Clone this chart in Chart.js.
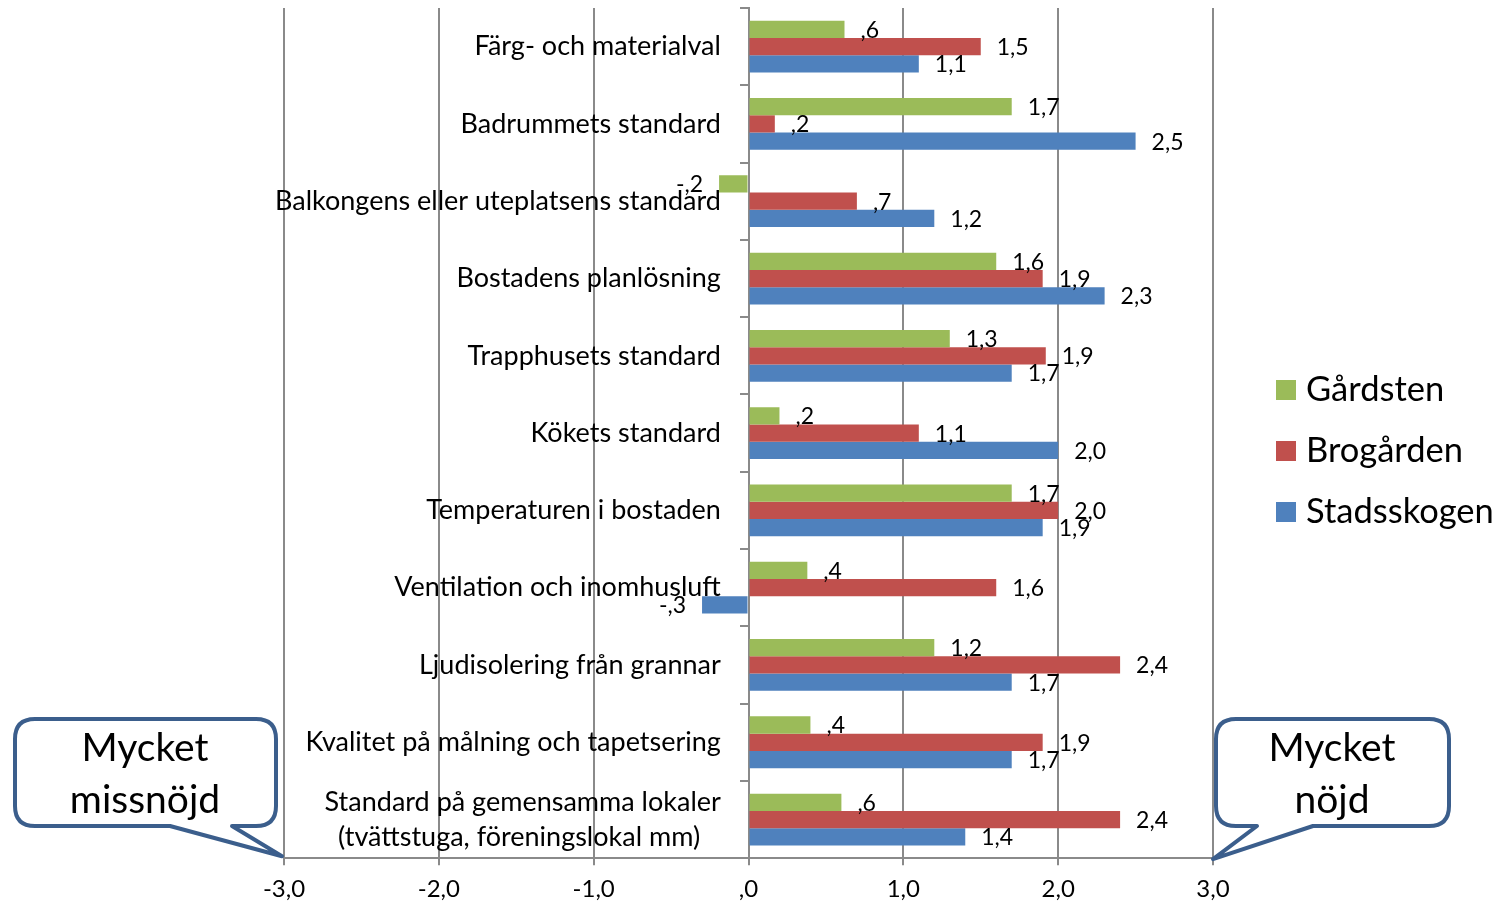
<!DOCTYPE html>
<html>
<head>
<meta charset="utf-8">
<script src="https://cdn.jsdelivr.net/npm/chart.js@4"></script>
<style>
  html, body { margin: 0; padding: 0; background: #fff; }
  #wrap { width: 1497px; height: 905px; position: relative; }
</style>
</head>
<body>
<div id="wrap"><canvas id="chart"></canvas></div>
<script>
// Categories (top to bottom)
const categories = [
  'Färg- och materialval',
  'Badrummets standard',
  'Balkongens eller uteplatsens standard',
  'Bostadens planlösning',
  'Trapphusets standard',
  'Kökets standard',
  'Temperaturen i bostaden',
  'Ventilation och inomhusluft',
  'Ljudisolering från grannar',
  'Kvalitet på målning och tapetsering',
  ['Standard på gemensamma lokaler', '(tvättstuga, föreningslokal mm)']
];

const seriesNames = ['Gårdsten', 'Brogården', 'Stadsskogen'];
const gardsten    = [0.62, 1.70, -0.19, 1.60, 1.30, 0.20, 1.70, 0.38, 1.20, 0.40, 0.60];
const brogarden   = [1.50, 0.17, 0.70, 1.90, 1.92, 1.10, 2.00, 1.60, 2.40, 1.90, 2.40];
const stadsskogen = [1.10, 2.50, 1.20, 2.30, 1.70, 2.00, 1.90, -0.30, 1.70, 1.70, 1.40];

const xTicks = [-3, -2, -1, 0, 1, 2, 3];
const calloutTexts = [['Mycket', 'missnöjd'], ['Mycket', 'nöjd']];

const colors = ['#9BBB59', '#C0504D', '#4F81BD'];
const FONT = 'Lato, "Open Sans", sans-serif';

// Swedish style number: 0.6 -> ",6", -0.2 -> "-,2", 1.5 -> "1,5"
function fmt(v) {
  const r = Math.round(v * 10) / 10;
  let s = Math.abs(r).toFixed(1).replace('.', ',');
  if (s.startsWith('0')) s = s.slice(1);
  return (r < 0 ? '-' : '') + s;
}

const valueLabels = {
  id: 'valueLabels',
  afterDatasetsDraw(chart) {
    const ctx = chart.ctx;
    ctx.save();
    ctx.font = '23px ' + FONT;
    ctx.fillStyle = '#000';
    ctx.textBaseline = 'middle';
    chart.data.datasets.forEach((ds, i) => {
      chart.getDatasetMeta(i).data.forEach((bar, j) => {
        const v = ds.data[j];
        const neg = v < 0;
        ctx.textAlign = neg ? 'right' : 'left';
        ctx.fillText(fmt(v), bar.x + (neg ? -16 : 16), bar.y + 1);
      });
    });
    ctx.restore();
  }
};

// legend on the right, drawn from dataset colours/labels
const sideLegend = {
  id: 'sideLegend',
  afterDraw(chart) {
    const ctx = chart.ctx;
    ctx.save();
    ctx.font = '34.5px ' + FONT;
    ctx.textBaseline = 'middle';
    ctx.textAlign = 'left';
    chart.data.datasets.forEach((ds, i) => {
      const y = 390 + i * 61;
      ctx.fillStyle = ds.backgroundColor;
      ctx.fillRect(1276, y - 10, 20, 20);
      ctx.fillStyle = '#000';
      ctx.fillText(ds.label, 1306, y);
    });
    ctx.restore();
  }
};

// speech bubbles pointing at the ends of the x axis
function bubble(ctx, l, t, r, b, rad, p1, tipX, tipY, p2) {
  ctx.beginPath();
  ctx.moveTo(l + rad, t);
  ctx.lineTo(r - rad, t);
  ctx.quadraticCurveTo(r, t, r, t + rad);
  ctx.lineTo(r, b - rad);
  ctx.quadraticCurveTo(r, b, r - rad, b);
  ctx.lineTo(p1, b);
  ctx.lineTo(tipX, tipY);
  ctx.lineTo(p2, b);
  ctx.lineTo(l + rad, b);
  ctx.quadraticCurveTo(l, b, l, b - rad);
  ctx.lineTo(l, t + rad);
  ctx.quadraticCurveTo(l, t, l + rad, t);
  ctx.closePath();
  ctx.fillStyle = '#fff';
  ctx.fill();
  ctx.lineWidth = 4;
  ctx.strokeStyle = '#3B5E8C';
  ctx.lineJoin = 'round';
  ctx.stroke();
}

const callouts = {
  id: 'callouts',
  afterDraw(chart) {
    const ctx = chart.ctx;
    const xs = chart.scales.x;
    const bottom = chart.chartArea.bottom;
    const leftTip = xs.getPixelForValue(xTicks[0]);
    const rightTip = xs.getPixelForValue(xTicks[xTicks.length - 1]);
    ctx.save();
    bubble(ctx, 15, 719, 276, 826, 20, 232, leftTip - 2, bottom - 2, 170);
    bubble(ctx, 1216, 719, 1449, 826, 20, 1313, rightTip, bottom + 1, 1257);
    ctx.fillStyle = '#000';
    ctx.font = '39px ' + FONT;
    ctx.textAlign = 'center';
    ctx.textBaseline = 'middle';
    ctx.fillText(calloutTexts[0][0], 145, 748);
    ctx.fillText(calloutTexts[0][1], 145, 800);
    ctx.fillText(calloutTexts[1][0], 1332, 748);
    ctx.fillText(calloutTexts[1][1], 1332, 800);
    ctx.restore();
  }
};

const pad = '    ';

new Chart(document.getElementById('chart'), {
  type: 'bar',
  data: {
    labels: categories,
    datasets: [
      { label: seriesNames[0], data: gardsten, backgroundColor: colors[0] },
      { label: seriesNames[1], data: brogarden, backgroundColor: colors[1] },
      { label: seriesNames[2], data: stadsskogen, backgroundColor: colors[2] }
    ]
  },
  options: {
    indexAxis: 'y',
    responsive: true,
    maintainAspectRatio: false,
    animation: false,
    layout: { padding: { left: 284, right: 284, top: 8, bottom: 3 } },
    datasets: {
      bar: { barPercentage: 1.0, categoryPercentage: 0.67 }
    },
    plugins: {
      legend: { display: false },
      tooltip: { enabled: false }
    },
    scales: {
      x: {
        min: -3,
        max: 3,
        afterBuildTicks: s => { s.ticks = xTicks.map(v => ({ value: v })); },
        afterFit: s => { s.height -= 12; },
        grid: { color: '#8A8A8A', lineWidth: 2, tickLength: 7, drawTicks: true },
        border: { color: '#8A8A8A', width: 2 },
        ticks: {
          color: '#000',
          font: { family: FONT, size: 24 },
          padding: 10,
          callback: v => fmt(v)
        }
      },
      y: {
        position: { x: 0 },
        grid: { drawOnChartArea: false, drawTicks: true, tickLength: 8, offset: true, color: '#8A8A8A', lineWidth: 2 },
        border: { color: '#8A8A8A', width: 2 },
        afterFit: s => { s.paddingTop = 0; s.paddingBottom = 0; },
        ticks: {
          color: '#000',
          font: { family: FONT, size: 27, lineHeight: 1.3 },
          callback: function (v, i) {
            const l = categories[i];
            if (Array.isArray(l)) return [l[0] + pad, l[1] + pad + '   '];
            return l + pad;
          }
        }
      }
    }
  },
  plugins: [valueLabels, sideLegend, callouts]
});
</script>
</body>
</html>
